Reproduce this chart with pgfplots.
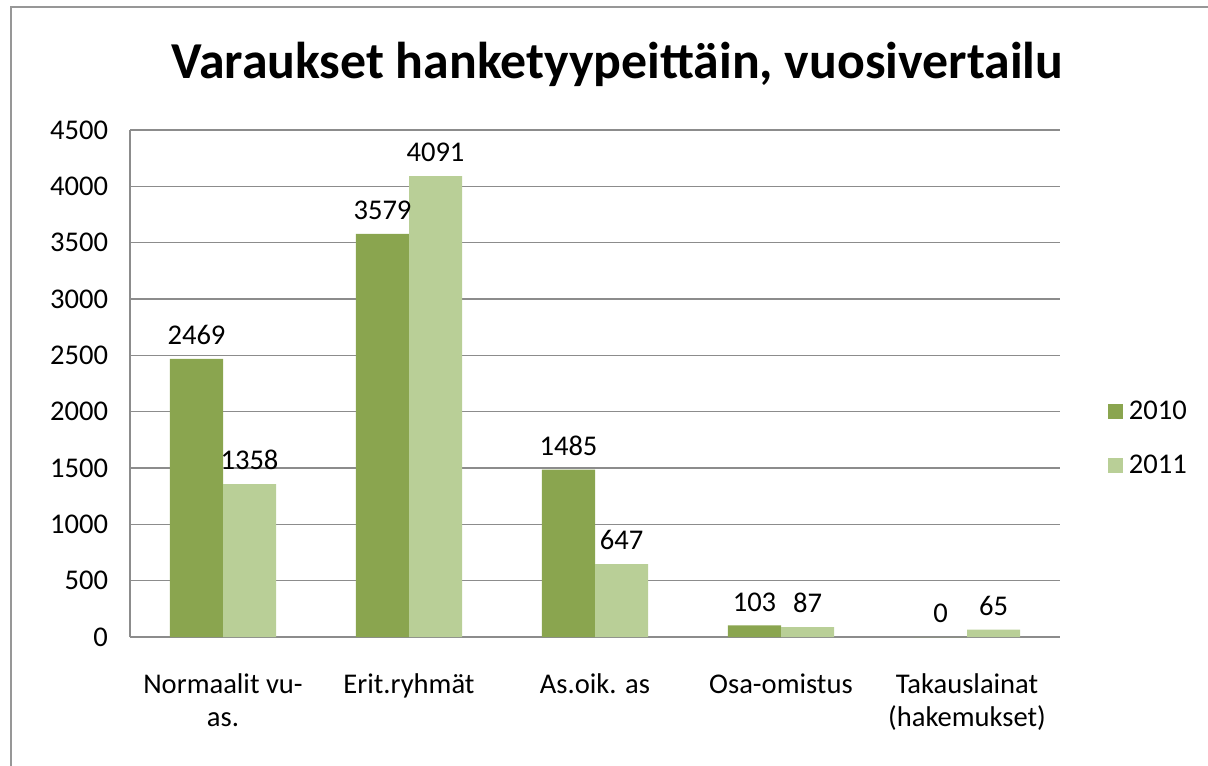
\documentclass[border=0pt]{standalone}
\usepackage{pgfplots}
\pgfplotsset{compat=1.18}
\usepackage{fontspec}
\setmainfont{Carlito}
\definecolor{gA}{HTML}{8AA54F}
\definecolor{gB}{HTML}{B9CF97}
\definecolor{gridc}{HTML}{8C8C8C}
\begin{document}
\begin{tikzpicture}
\useasboundingbox (0,0) rectangle (906bp,-574.5bp);
\draw[gridc!90, line width=1.5bp] (8.5bp,-5.5bp) rectangle (930bp,-600bp);
\node[font=\fontsize{39}{44}\selectfont\bfseries] at (463bp,-48bp) {Varaukset hanketyypeittäin, vuosivertailu};
\begin{axis}[
  at={(97.5bp,-477.75bp)}, anchor=south west,
  scale only axis, width=697.5bp, height=380.25bp,
  xmin=-0.5, xmax=4.5, ymin=0, ymax=4500,
  ybar=0pt, bar width=0.285,
  axis lines=left, axis line style={-, gridc, line width=1.2bp},
  ymajorgrids, grid style={gridc, line width=1.2bp},
  ytick={0,500,...,4500}, xtick={0,1,2,3,4},
  xticklabels={{Normaalit vu-\\as.},{Erit.ryhmät},{As.oik. as},{Osa-omistus},{Takauslainat\\(hakemukset)}},
  major tick length=0pt,
  tick label style={font=\fontsize{21.5}{25}\selectfont},
  xticklabel style={align=center, yshift=-24bp},
  yticklabel style={xshift=-13bp},
  /pgf/number format/assume math mode=true,
  /pgf/number format/1000 sep={},
  nodes near coords,
  every node near coord/.append style={font=\fontsize{21.5}{25}\selectfont, yshift=7bp, text=black},
  legend style={draw=none, at={(1.0516,0.3915)}, anchor=west, font=\fontsize{21.5}{25}\selectfont, row sep=21bp, inner sep=0pt, nodes={inner xsep=4.5bp}},
  legend cell align=left,
  legend image code/.code={\fill[#1,draw=none] (0bp,-5.5bp) rectangle (11bp,5.5bp);},
  clip=false,
]
\addplot[fill=gA, draw=none] coordinates {(0,2469) (1,3579) (2,1485) (3,103) (4,0)};
\addplot[fill=gB, draw=none] coordinates {(0,1358) (1,4091) (2,647) (3,87) (4,65)};
\legend{2010,2011}
\end{axis}
\end{tikzpicture}
\end{document}
